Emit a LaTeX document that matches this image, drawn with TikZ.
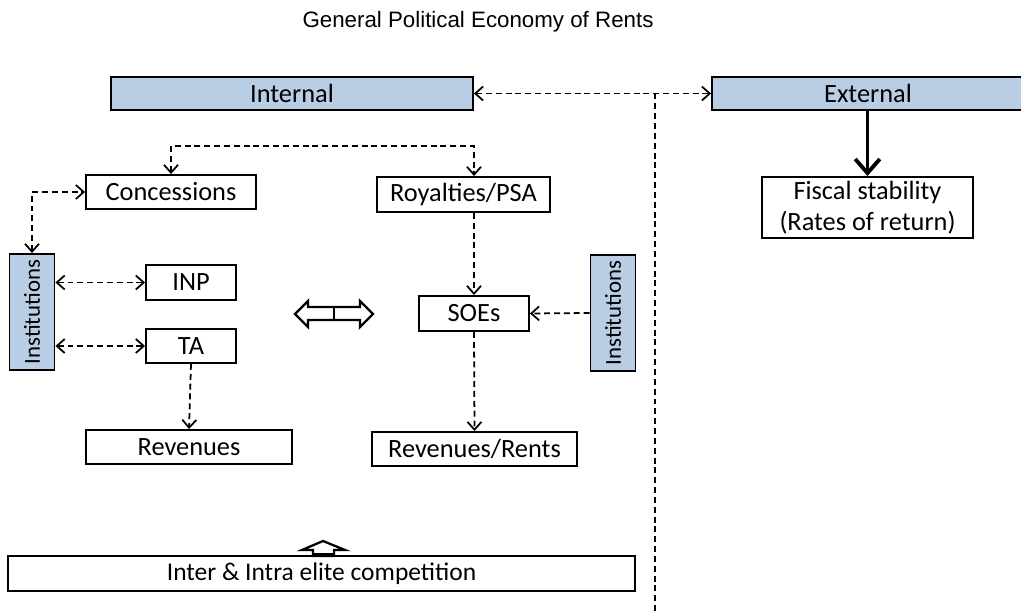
\documentclass[tikz,border=0pt]{standalone}
\usepackage{fontspec}
\setmainfont{Carlito}
\newfontfamily\titlefont{Liberation Sans}
\usetikzlibrary{arrows.meta}
\definecolor{panelblue}{HTML}{B9CDE5}
\tikzset{
    box/.style={draw, line width=1.1pt, fill=white, inner sep=0pt,
        font=\fontsize{15}{18}\selectfont},
    bluebox/.style={box, fill=panelblue},
    instbox/.style={bluebox, rotate=90, minimum width=2.32cm, minimum height=0.9cm,
        font=\fontsize{13}{15}\selectfont},
    dlink/.style={line width=1pt, dash pattern=on 3.4pt off 2.2pt,
        >={Straight Barb[length=4.5pt,width=8pt]}},
    hollow/.style={draw, line width=1.3pt, fill=white, line join=miter}
}
\begin{document}
\begin{tikzpicture}[x=0.02cm, y=-0.02cm]
    \useasboundingbox (0,0) rectangle (1021,615);

    \node[font=\titlefont\fontsize{12.7}{15}\selectfont] (title) at (478,22) {General Political Economy of Rents};

    % top row
    \node[bluebox, minimum width=7.24cm, minimum height=0.66cm] (internal) at (292,93.5) {Internal};
    \node[bluebox, minimum width=6.24cm, minimum height=0.66cm] (external) at (868,93.5) {External};
    \node[box, minimum width=4.22cm, minimum height=1.22cm, align=center] (fiscal) at (867.5,207.5)
        {Fiscal stability\\(Rates of return)};

    % internal side
    \node[box, minimum width=3.4cm, minimum height=0.68cm] (concessions) at (171,192) {Concessions};
    \node[box, minimum width=3.46cm, minimum height=0.7cm] (royalties) at (463.5,194.5) {Royalties/PSA};
    \node[instbox] (instL) at (32,312) {Institutions};
    \node[box, minimum width=1.8cm, minimum height=0.7cm] (inp) at (191,282.5) {INP};
    \node[box, minimum width=1.8cm, minimum height=0.68cm] (ta) at (191,346) {TA};
    \node[box, minimum width=4.12cm, minimum height=0.68cm] (revenues) at (189,447) {Revenues};
    \node[box, minimum width=2.2cm, minimum height=0.7cm] (soes) at (474,313.5) {SOEs};
    \node[instbox] (instR) at (613,313) {Institutions};
    \node[box, minimum width=4.1cm, minimum height=0.68cm] (rents) at (474.5,449) {Revenues/Rents};
    \node[box, minimum width=12.54cm, minimum height=0.7cm, font=\fontsize{14.5}{17}\selectfont] (elite)
        at (321.5,573.5) {Inter \& Intra elite competition};

    % divider between internal and external
    \coordinate (split) at (655,93.5);
    \coordinate (floor) at (655,615);
    \draw[dlink] (split) -- (floor);

    % connectors
    \begin{scope}[dlink]
        \draw[<->] (internal.east) -- (external.west);
        \draw[<->] (concessions.north) -- ++(0,-28) -| (royalties.north -| soes);
        \draw[<->] (instL.east) |- (concessions.west);
        \draw[<->] (instL.south |- inp) -- (inp.west);
        \draw[<->] (instL.south |- ta) -- (ta.west);
        \draw[->] (ta.south) -- (revenues.north);
        \draw[->] (royalties.south -| soes) -- (soes.north);
        \draw[->] (instR.north) -- (soes.east);
        \draw[->] (soes.south) -- (rents.north);
    \end{scope}
    \draw[line width=2.2pt, -{Straight Barb[length=8pt,width=14pt]}] (external.south -| fiscal) -- (fiscal.north);

    % hollow arrows
    \draw[hollow] (295,314) -- (308,301) -- (308,307) -- (360,307) -- (360,301) -- (373,314)
        -- (360,327) -- (360,320) -- (308,320) -- (308,327) -- cycle;
    \draw[line width=1.3pt] (334,307) -- (334,320);
    \draw[hollow] (323,541) -- (345,550) -- (334,550) -- (334,556) -- (313,556) -- (313,550)
        -- (302,550) -- cycle;
    \fill (313,553) rectangle (334,556);
\end{tikzpicture}
\end{document}
